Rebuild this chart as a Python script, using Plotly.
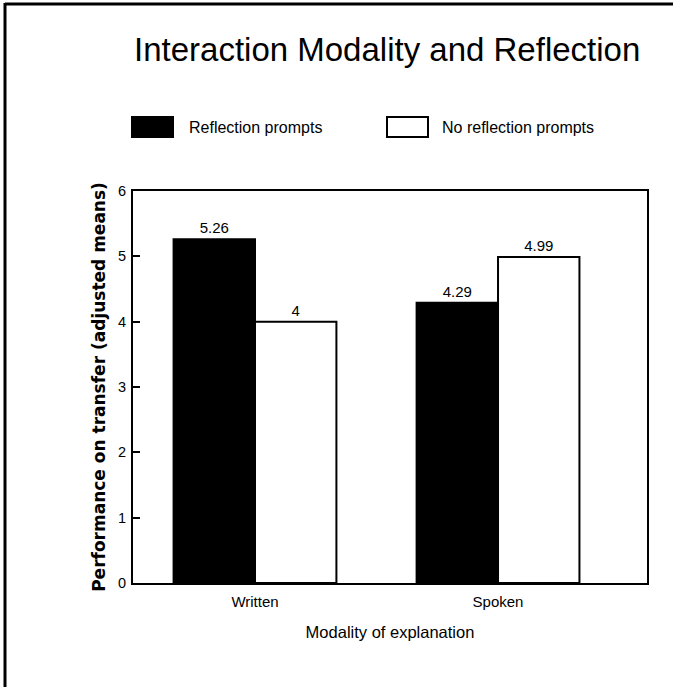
import plotly.graph_objects as go

categories = ["Written", "Spoken"]
series_names = ["Reflection prompts", "No reflection prompts"]
reflection = [5.26, 4.29]
no_reflection = [4.0, 4.99]
value_labels_reflection = ["5.26", "4.29"]
value_labels_no_reflection = ["4", "4.99"]
y_ticks = [0, 1, 2, 3, 4, 5, 6]

SANS = "Liberation Sans, Arial, sans-serif"
W, H = 673, 687
L, R, T, B = 133, 26, 191, 104
pw, ph = W - L - R, H - T - B

def px(x):
    return (x - L) / pw

def py(y):
    return (H - B - y) / ph

xpos = [0, 1]

fig = go.Figure()
fig.add_trace(go.Bar(
    x=xpos, y=reflection, name=series_names[0],
    marker=dict(color="black", line=dict(color="black", width=2)),
    text=value_labels_reflection, textposition="outside",
    textfont=dict(family=SANS, size=15, color="black"),
    cliponaxis=False, showlegend=False,
))
fig.add_trace(go.Bar(
    x=xpos, y=no_reflection, name=series_names[1],
    marker=dict(color="white", line=dict(color="black", width=2)),
    text=value_labels_no_reflection, textposition="outside",
    textfont=dict(family=SANS, size=15, color="black"),
    cliponaxis=False, showlegend=False,
))

fig.update_layout(
    width=W, height=H,
    margin=dict(l=L, r=R, t=T, b=B),
    paper_bgcolor="white", plot_bgcolor="white",
    barmode="group", bargap=0.33, bargroupgap=0,
    showlegend=False,
    font=dict(family=SANS, color="black", size=15),
)
fig.update_xaxes(
    range=[-0.502, 1.613], tickmode="array", tickvals=xpos, ticktext=categories,
    showgrid=False, zeroline=False, showline=True, linecolor="black", linewidth=2,
    mirror=True, ticks="", tickfont=dict(family=SANS, size=15), ticklabelstandoff=4,
    title=dict(text="Modality of explanation", font=dict(family=SANS, size=16.5), standoff=17),
)
fig.update_yaxes(
    range=[0, 6], tickmode="array", tickvals=y_ticks,
    showgrid=False, zeroline=False, showline=True, linecolor="black", linewidth=2,
    mirror=True, ticks="inside", ticklen=7, tickwidth=2, tickcolor="black",
    tickfont=dict(family=SANS, size=14.5), ticklabelstandoff=2,
    title=dict(text="Performance on transfer (adjusted means)",
               font=dict(family="DejaVu Sans", size=17, weight="bold"), standoff=8),
)

# Title
fig.add_annotation(
    text="Interaction Modality and Reflection", xref="paper", yref="paper",
    x=px(386.5), y=py(49), xanchor="center", yanchor="middle", showarrow=False,
    font=dict(family=SANS, size=33, color="black"),
)

# Legend swatches and labels
legend_items = [
    (132, 173, "black", 187, series_names[0]),
    (387, 428, "white", 440, series_names[1]),
]
for x0, x1, col, tx, label in legend_items:
    fig.add_shape(type="rect", xref="paper", yref="paper",
                  x0=px(x0), x1=px(x1), y0=py(137), y1=py(117),
                  fillcolor=col, line=dict(color="black", width=2))
    fig.add_annotation(text=label, xref="paper", yref="paper",
                       x=px(tx), y=py(127), xanchor="left", yanchor="middle",
                       showarrow=False, font=dict(family=SANS, size=16, color="black"))

# Outer frame (left and top edges visible)
fig.add_shape(type="line", xref="paper", yref="paper",
              x0=px(5), x1=px(5), y0=py(3), y1=py(700), line=dict(color="black", width=3))
fig.add_shape(type="line", xref="paper", yref="paper",
              x0=px(5), x1=px(700), y0=py(4), y1=py(4), line=dict(color="black", width=3))

fig.write_html(
    "out.html",
    config={"displayModeBar": False},
    post_script=(
        "document.body.style.margin='0';"
        "document.documentElement.style.overflow='hidden';"
        "document.body.style.overflow='hidden';"
        "window.scrollTo(0,0);"
    ),
)
